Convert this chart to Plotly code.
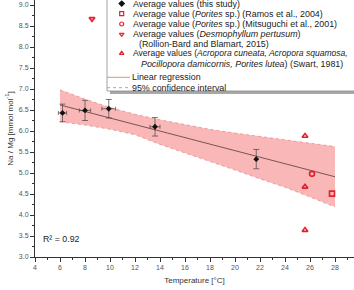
import plotly.graph_objects as go

# ---- data ----
study_t = [6.2, 8.0, 9.9, 13.6, 21.7]
study_namg = [6.43, 6.49, 6.53, 6.10, 5.33]
study_yerr = [0.21, 0.24, 0.22, 0.22, 0.23]
study_xerr = [0.33, 0.45, 0.55, 0.40, 0.0]

ramos_t = [27.76]
ramos_namg = [4.51]
mitsu_t = [26.16]
mitsu_namg = [4.98]
desmo_t = [8.56]
desmo_namg = [8.67]
swart_t = [25.6, 25.6, 25.6]
swart_namg = [5.88, 4.67, 3.64]

reg_t = [6.0, 28.0]
reg_namg = [6.62, 4.91]

ci_t = [6, 8, 10, 12, 14, 16, 18, 20, 22, 24, 26, 28]
ci_upper = [6.98, 6.76, 6.56, 6.40, 6.27, 6.15, 6.04, 5.95, 5.87, 5.79, 5.71, 5.63]
ci_lower = [6.22, 6.14, 6.04, 5.91, 5.68, 5.48, 5.28, 5.07, 4.86, 4.66, 4.43, 4.19]

r2_text = "R² = 0.92"

FONT = "Arial, Liberation Sans, sans-serif"
RED = "#e3202b"
BAND = "rgba(247,155,155,0.72)"

fig = go.Figure()

# confidence band
fig.add_trace(go.Scatter(x=ci_t, y=ci_upper, mode="lines",
                         line=dict(color="rgba(220,110,110,0.9)", width=0.6, dash="dot"),
                         showlegend=False, hoverinfo="skip"))
fig.add_trace(go.Scatter(x=ci_t, y=ci_lower, mode="lines", fill="tonexty",
                         fillcolor=BAND,
                         line=dict(color="rgba(220,110,110,0.9)", width=0.6, dash="dot"),
                         showlegend=False, hoverinfo="skip"))
# regression line
fig.add_trace(go.Scatter(x=reg_t, y=reg_namg, mode="lines",
                         line=dict(color="#5a3a3a", width=0.8), showlegend=False))
# this study
fig.add_trace(go.Scatter(x=study_t, y=study_namg, mode="markers",
                         marker=dict(symbol="diamond", size=4.5, color="#111"),
                         error_y=dict(type="data", array=study_yerr, color="#444",
                                      thickness=0.7, width=3),
                         error_x=dict(type="data", array=study_xerr, color="#444",
                                      thickness=0.7, width=2),
                         showlegend=False))
mk = dict(size=5, color=RED, line=dict(width=1.6, color=RED))
fig.add_trace(go.Scatter(x=ramos_t, y=ramos_namg, mode="markers",
                         marker=dict(symbol="square-open", **mk), showlegend=False))
fig.add_trace(go.Scatter(x=mitsu_t, y=mitsu_namg, mode="markers",
                         marker=dict(symbol="circle-open", **mk), showlegend=False))
fig.add_trace(go.Scatter(x=desmo_t, y=desmo_namg, mode="markers",
                         marker=dict(symbol="triangle-down-open", **mk), showlegend=False))
fig.add_trace(go.Scatter(x=swart_t, y=swart_namg, mode="markers",
                         marker=dict(symbol="triangle-up-open", **mk), showlegend=False))

# ---- manual legend (pixel-like overlay axes) ----
leg_marker_x = 121.7
leg_rows_y = [3.6, 13.6, 24.0, 34.3, 53.3]
leg_symbols = ["diamond", "square-open", "circle-open", "triangle-down-open", "triangle-up-open"]
leg_colors = ["#111", RED, RED, RED, RED]
for yy, sym, col in zip(leg_rows_y, leg_symbols, leg_colors):
    fig.add_trace(go.Scatter(x=[leg_marker_x], y=[yy], xaxis="x2", yaxis="y2",
                             mode="markers",
                             marker=dict(symbol=sym, size=4, color=col,
                                         line=dict(width=1.2, color=col)),
                             showlegend=False, hoverinfo="skip"))

shapes = [
    dict(type="rect", xref="x2", yref="y2", x0=110, y0=-2, x1=420, y1=94,
         fillcolor="#a8a8a8", line=dict(width=0), layer="below"),
    dict(type="rect", xref="x2", yref="y2", x0=107, y0=-5, x1=417, y1=91,
         fillcolor="white", line=dict(width=0.8, color="#8a8a8a"), layer="below"),
    dict(type="line", xref="x2", yref="y2", x0=107, y0=77.3, x1=130, y1=77.3,
         line=dict(color="#f08888", width=1)),
    dict(type="line", xref="x2", yref="y2", x0=107, y0=87.7, x1=130, y1=87.7,
         line=dict(color="#f08888", width=1, dash="dot")),
]

leg_texts = [
    (131.7, 3.6, "Average values (this study)", 8.9),
    (131.7, 13.6, "Average value (<i>Porites</i> sp.) (Ramos et al., 2004)", 8.9),
    (131.7, 24.0, "Average value (<i>Porites</i> sp.) (Mitsuguchi et al., 2001)", 8.9),
    (131.7, 34.3, "Average values (<i>Desmophyllum pertusum</i>)", 8.9),
    (137.7, 43.5, "(Rollion-Bard and Blamart, 2015)", 8.9),
    (131.7, 53.3, "Average values (<i>Acropora cuneata, Acropora squamosa,</i>", 8.55),
    (140.0, 63.5, "<i>Pocillopora damicornis, Porites lutea</i>) (Swart, 1981)", 8.9),
    (130.5, 77.3, "Linear regression", 8.9),
    (130.5, 87.7, "95% confidence interval", 8.9),
]
annotations = []
for xx, yy, tt, fs in leg_texts:
    annotations.append(dict(x=xx, y=yy, xref="x2", yref="y2", text=tt,
                            showarrow=False, xanchor="left", yanchor="middle",
                            xshift=-1, font=dict(size=fs, color="#222", family=FONT)))
annotations.append(dict(x=41, y=239, xref="x2", yref="y2", text=r2_text,
                        showarrow=False, xanchor="left", yanchor="middle",
                        font=dict(size=8.8, color="#222", family=FONT)))

fig.update_layout(
    width=354, height=290,
    margin=dict(l=35, r=0, t=0, b=33, autoexpand=False),
    paper_bgcolor="white", plot_bgcolor="white",
    font=dict(family=FONT, size=7, color="#444"),
    showlegend=False,
    shapes=shapes, annotations=annotations,
    xaxis=dict(range=[4, 29.52], dtick=2, tick0=4, showgrid=False, zeroline=False,
               showline=True, linecolor="#333", linewidth=1,
               ticks="outside", ticklen=4, tickcolor="#333", tickwidth=1,
               minor=dict(dtick=1, ticks="outside", ticklen=2, tickcolor="#333"),
               tickfont=dict(size=7, color="#555"),
               title=dict(text="Temperature [°C]", font=dict(size=8, color="#333"),
                          standoff=6)),
    yaxis=dict(range=[3, 9.119], dtick=0.5, tick0=3, tickformat=".1f",
               showgrid=False, zeroline=False,
               showline=True, linecolor="#333", linewidth=1,
               ticks="outside", ticklen=4, tickcolor="#333", tickwidth=1,
               minor=dict(dtick=0.25, ticks="outside", ticklen=2, tickcolor="#333"),
               tickfont=dict(size=7, color="#555"),
               title=dict(text="Na / Mg [mmol mol<sup>-1</sup>]",
                          font=dict(size=8, color="#333"), standoff=4)),
    xaxis2=dict(overlaying="x", range=[35, 354], visible=False, anchor="y2",
                showgrid=False, zeroline=False),
    yaxis2=dict(overlaying="y", range=[257, 0], visible=False, anchor="x2",
                showgrid=False, zeroline=False),
)

fig.write_html("out.html")
